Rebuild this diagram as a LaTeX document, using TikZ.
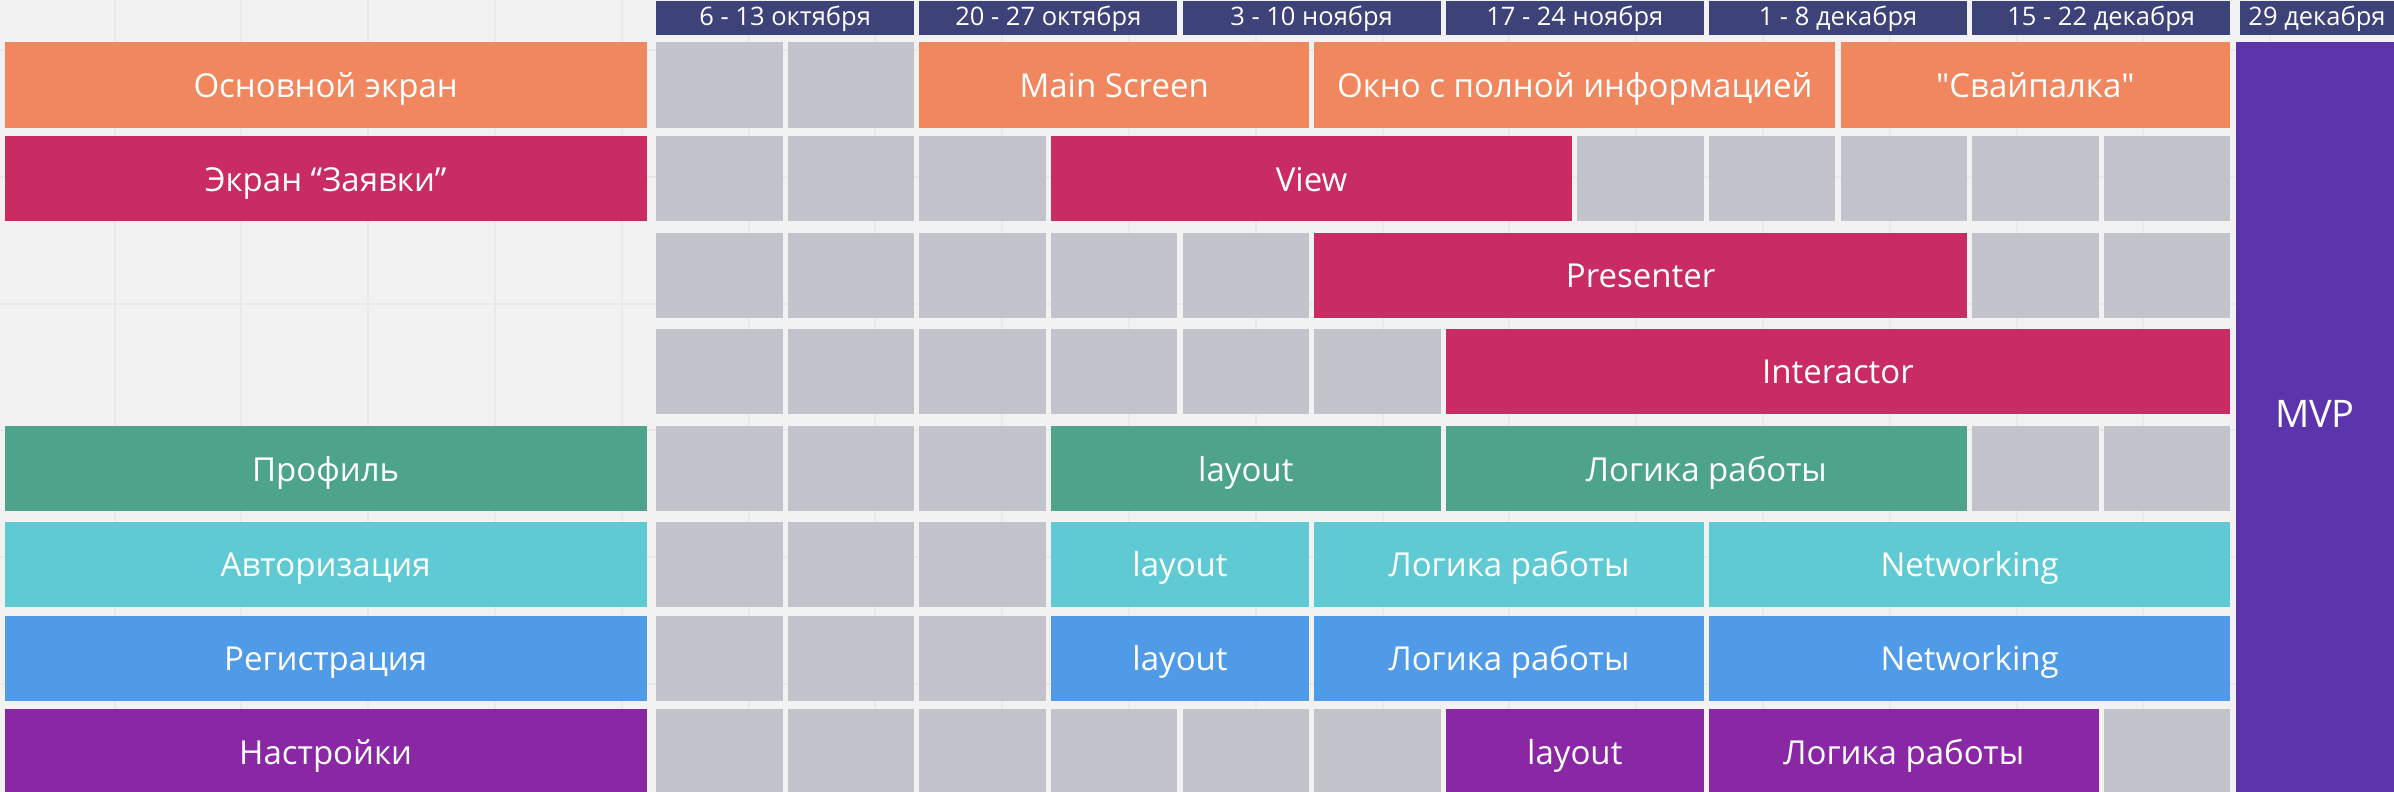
\documentclass[tikz,border=0pt]{standalone}
\usepackage{fontspec}
\setmainfont{Open Sans}
\usepackage{xcolor}
\usepackage{tikz}
\usetikzlibrary{positioning}
\definecolor{PlanBack}{HTML}{F2F2F2}
\definecolor{PlanGrid}{HTML}{E9E9E9}
\definecolor{PlanWeek}{HTML}{3D4278}
\definecolor{PlanFree}{HTML}{C3C3CB}
\definecolor{PlanOrange}{HTML}{F0875F}
\definecolor{PlanCrimson}{HTML}{C92B63}
\definecolor{PlanGreen}{HTML}{4DA48A}
\definecolor{PlanCyan}{HTML}{5FCAD3}
\definecolor{PlanBlue}{HTML}{4F9BE8}
\definecolor{PlanPurple}{HTML}{8A27A4}
\definecolor{PlanMVP}{HTML}{5C34AB}
\tikzset{
  gridline/.style={draw=PlanGrid,line width=2pt},
  weekbox/.style={fill=PlanWeek,anchor=north west,inner sep=0pt,minimum height=34pt,
    text height=16pt,text depth=2pt,text=white,font=\fontsize{25.5}{30}\selectfont},
  rowbox/.style={anchor=north west,inner sep=0pt,minimum height=85pt,minimum width=641.7pt,
    text height=25pt,text depth=0pt,text=white,font=\fontsize{33}{40}\selectfont},
  freebox/.style={fill=PlanFree,anchor=north west,inner sep=0pt,minimum height=85pt,
    minimum width=126.4pt},
  taskbox/.style={anchor=north west,inner sep=0pt,minimum height=85pt,
    text height=25pt,text depth=0pt,text=white,font=\fontsize{33}{40}\selectfont}
}
\begin{document}
\begin{tikzpicture}[x=1pt,y=-1pt]
  \useasboundingbox (0,0) rectangle (2394,792);
  \fill[PlanBack] (0,0) rectangle (2394,792);
  % board grid
  \foreach \gx in {0,...,18} \draw[gridline] ({114.5+126.8*\gx},0) -- ({114.5+126.8*\gx},792);
  \foreach \gy in {0,...,5} \draw[gridline] (0,{50+126.8*\gy}) -- (2394,{50+126.8*\gy});
  % weeks
  \foreach \i/\txt in {0/6 - 13 октября,1/20 - 27 октября,2/3 - 10 ноября,3/17 - 24 ноября,4/1 - 8 декабря,5/15 - 22 декабря} {
    \node[weekbox,minimum width=258pt] (week\i) at ({656+263.2*\i},1) {\txt};
  }
  \node[weekbox,minimum width=154.4pt] (weekEnd) at (2239.6,1) {29 декабря};
  % screens
  \foreach \name/\y/\col/\txt in {rowMain/42.3/PlanOrange/Основной экран,rowOrders/136/PlanCrimson/Экран “Заявки”,
      rowProfile/426/PlanGreen/Профиль,rowAuth/521.7/PlanCyan/Авторизация,
      rowReg/615.3/PlanBlue/Регистрация,rowSettings/709/PlanPurple/Настройки} {
    \node[rowbox,fill=\col] (\name) at (4.6,\y) {\txt};
  }
  % free weeks
  \foreach \r/\y/\ks in {1/42.3/{0,1},2/136/{0,1,2,7,8,9,10,11},3/232.7/{0,1,2,3,4,10,11},
      4/328.3/{0,1,2,3,4,5},5/426/{0,1,2,10,11},6/521.7/{0,1,2},7/615.3/{0,1,2},8/709/{0,1,2,3,4,5,11}} {
    \foreach \k in \ks {
      \node[freebox] (free\r-\k) at ({656+131.6*\k},\y) {};
    }
  }
  % tasks
  \foreach \name/\y/\k/\n/\col/\txt in {
      mainScreen/42.3/2/3/PlanOrange/Main Screen,
      fullInfo/42.3/5/4/PlanOrange/Окно с полной информацией,
      swipe/42.3/9/3/PlanOrange/\textquotedbl Свайпалка\textquotedbl,
      view/136/3/4/PlanCrimson/View,
      presenter/232.7/5/5/PlanCrimson/Presenter,
      interactor/328.3/6/6/PlanCrimson/Interactor,
      profLayout/426/3/3/PlanGreen/layout,
      profLogic/426/6/4/PlanGreen/Логика работы,
      authLayout/521.7/3/2/PlanCyan/layout,
      authLogic/521.7/5/3/PlanCyan/Логика работы,
      authNet/521.7/8/4/PlanCyan/Networking,
      regLayout/615.3/3/2/PlanBlue/layout,
      regLogic/615.3/5/3/PlanBlue/Логика работы,
      regNet/615.3/8/4/PlanBlue/Networking,
      setLayout/709/6/2/PlanPurple/layout,
      setLogic/709/8/3/PlanPurple/Логика работы} {
    \pgfmathsetmacro\w{131.6*\n-5.2}
    \node[taskbox,fill=\col,minimum width=\w pt] (\name) at ({656+131.6*\k},\y) {\txt};
  }
  % release
  \node[taskbox,fill=PlanMVP,minimum width=158.5pt,minimum height=750pt,
    text height=20.7pt,font=\fontsize{38}{44}\selectfont] (mvp) at (2235.5,42.3) {MVP};
\end{tikzpicture}
\end{document}
